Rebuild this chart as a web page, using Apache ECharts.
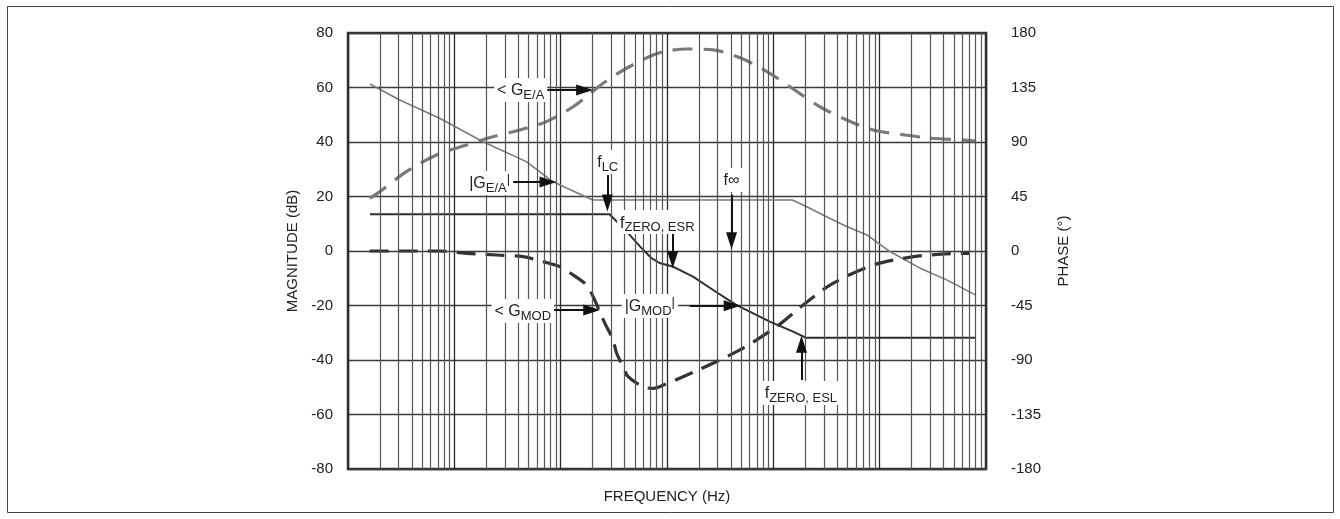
<!DOCTYPE html>
<html><head><meta charset="utf-8">
<script src="https://cdn.jsdelivr.net/npm/echarts@6/dist/echarts.min.js"></script>
<style>html,body{margin:0;padding:0;background:#fff}#c{width:1340px;height:519px}</style>
</head><body><div id="c"></div>
<script>
const FONT = "'Liberation Sans',Arial,sans-serif";

// Tick labels
const magTicks = [-80, -60, -40, -20, 0, 20, 40, 60, 80];
const phaseTicks = [-180, -135, -90, -45, 0, 45, 90, 135, 180];
const freqRange = [1, 1000000];

// |G_E/A| magnitude (dB)
const magGeaFreq = [1.61, 3.06, 7.28, 18.6, 47.6, 84.9, 200, 15100, 20400, 31600, 49000, 75900, 126000, 240000, 427000, 794000];
const magGeaVal  = [61.3, 55.4, 48.7, 40.1, 32.8, 25.4, 18.7, 18.7, 16.3, 12.6, 9.0, 5.9, -0.3, -6.3, -10.6, -16.1];

// |G_MOD| magnitude (dB)
const magGmodFreq = [1.61, 288, 398, 562, 708, 851, 1150, 1758, 2716, 4470, 9268, 15350, 19050, 19950, 794000];
const magGmodVal  = [13.5, 13.5, 8.0, 1.5, -2.5, -4.4, -5.8, -9.4, -14.3, -19.8, -25.9, -29.6, -31.3, -31.8, -31.8];

// <G_E/A phase (deg)
const phGeaFreq = [1.61, 1.99, 3.54, 6.79, 13.0, 23.1, 41.2, 73.5, 131, 251, 416, 740, 989, 1520, 2720, 5010, 9270, 15900, 27400, 48900, 86900, 173000, 308000, 590000, 787000];
const phGeaVal  = [43.5, 49.0, 65.5, 79.3, 87.5, 94.4, 99.9, 106.8, 119.1, 138.5, 150.9, 161.8, 165.1, 166.8, 166.0, 159.1, 146.7, 132.9, 119.1, 108.2, 99.9, 95.8, 93.1, 91.7, 90.8];

// <G_MOD phase (deg)
const phGmodFreq = [1.6, 7.29, 13.0, 24.9, 44.3, 68.2, 97.9, 122, 175, 202, 233, 260, 311, 335, 386, 431, 596, 735, 851, 1780, 4840, 10700, 19100, 36300, 87100, 209000, 398000, 708000];
const phGmodVal  = [0, 0, -1.9, -3.3, -4.7, -8.8, -12.9, -18, -28, -37.7, -50.1, -59.5, -73.5, -84, -95.5, -103.8, -112, -113.5, -112, -100, -81.7, -62.5, -44.6, -26.7, -11.6, -4.7, -2.5, -1.9];

// Annotations: text label position [freq, dB]
const noteText = [
  {t: '< G', s: 'E/A', e: '', at: [42.1, 59.1]},
  {t: '|G', s: 'E/A', e: '|', at: [21.5, 25.0]},
  {t: 'f', s: 'LC', e: '', at: [277, 32.7]},
  {t: 'f', s: 'ZERO, ESR', e: '', at: [811, 10.6]},
  {t: 'f∞', s: '', e: '', at: [4045, 26.1]},
  {t: '< G', s: 'MOD', e: '', at: [44, -22.0]},
  {t: '|G', s: 'MOD', e: '|', at: [689, -20.2]},
  {t: 'f', s: 'ZERO, ESL', e: '', at: [18150, -52.1]}
];
// Arrows: [from [freq, dB], to [freq, dB]]
const noteArrows = [
  [[73.5, 59.1], [168, 59.1]],
  [[35.4, 25.3], [76, 25.3]],
  [[275, 27.9], [275, 17.6]],
  [[1132, 7.0], [1132, -3.2]],
  [[4045, 20.6], [4045, 3.8]],
  [[74, -21.65], [196, -21.65]],
  [[1636, -20.1], [4100, -20.1]],
  [[18400, -47.3], [18400, -34.2]]
];

const zip = (a, b) => a.map((v, i) => [v, b[i]]);

const minorLines = [];
for (let d = 1; d < freqRange[1]; d *= 10) {
  for (let k = 2; k <= 9; k++) minorLines.push({xAxis: k * d});
}

const chart = echarts.init(document.getElementById('c'), null, {renderer: 'canvas'});
const ARROW = 'path://M5,0 L10,17 L0,17 Z';

chart.setOption({
  animation: false,
  backgroundColor: '#fff',
  textStyle: {fontFamily: FONT},
  graphic: [{
    type: 'rect', silent: true, z: 100,
    shape: {x: 7.5, y: 6.5, width: 1326, height: 506},
    style: {fill: 'none', stroke: '#444', lineWidth: 1}
  }],
  grid: {left: 348, right: 354, top: 33, bottom: 50, show: true, borderColor: '#333', borderWidth: 2.5, backgroundColor: 'transparent'},
  xAxis: {
    type: 'log', logBase: 10, min: freqRange[0], max: freqRange[1],
    name: 'FREQUENCY (Hz)', nameLocation: 'middle', nameGap: 20,
    nameTextStyle: {fontSize: 15, color: '#222', fontFamily: FONT},
    axisLine: {show: false}, axisTick: {show: false}, axisLabel: {show: false},
    splitLine: {show: true, lineStyle: {color: '#2a2a2a', width: 1.3}}
  },
  yAxis: [{
    type: 'value', min: magTicks[0], max: magTicks[magTicks.length - 1], interval: 20,
    name: 'MAGNITUDE (dB)', nameLocation: 'middle', nameGap: 48, nameRotate: 90,
    nameTextStyle: {fontSize: 15, color: '#222', fontFamily: FONT},
    axisLine: {show: false}, axisTick: {show: false},
    axisLabel: {fontSize: 15, color: '#222', margin: 15, fontFamily: FONT},
    splitLine: {show: true, lineStyle: {color: '#3a3a3a', width: 1.3}}
  }, {
    type: 'value', position: 'right', min: phaseTicks[0], max: phaseTicks[phaseTicks.length - 1], interval: 45,
    name: 'PHASE (°)', nameLocation: 'middle', nameGap: 70, nameRotate: 90,
    nameTextStyle: {fontSize: 15, color: '#222', fontFamily: FONT},
    axisLine: {show: false}, axisTick: {show: false},
    axisLabel: {fontSize: 15, color: '#222', margin: 25, fontFamily: FONT},
    splitLine: {show: false}
  }],
  series: [
    {
      type: 'line', name: 'grid', data: [], z: 1, silent: true,
      markLine: {silent: true, symbol: ['none', 'none'], label: {show: false},
        lineStyle: {type: 'solid', color: '#555', width: 1.2}, data: minorLines, animation: false}
    },
    {type: 'line', name: '|G E/A|', data: zip(magGeaFreq, magGeaVal), yAxisIndex: 0, showSymbol: false, z: 3,
      lineStyle: {color: '#7a7a7a', width: 1.6}},
    {type: 'line', name: '|G MOD|', data: zip(magGmodFreq, magGmodVal), yAxisIndex: 0, showSymbol: false, z: 4,
      lineStyle: {color: '#2e2e2e', width: 2}},
    {type: 'line', name: '<G E/A', data: zip(phGeaFreq, phGeaVal), yAxisIndex: 1, showSymbol: false, smooth: 0.3, z: 3,
      lineStyle: {color: '#7a7a7a', width: 3.2, type: [20, 11]}},
    {type: 'line', name: '<G MOD', data: zip(phGmodFreq, phGmodVal), yAxisIndex: 1, showSymbol: false, smooth: 0.3, z: 4,
      lineStyle: {color: '#333', width: 3.2, type: [19, 10]}},
    {
      type: 'line', name: 'notes', data: [], yAxisIndex: 0, z: 10, silent: true,
      markLine: {
        silent: true, symbol: ['none', ARROW], symbolSize: [11, 17],
        label: {show: false},
        lineStyle: {type: 'solid', color: '#111', width: 2},
        data: noteArrows.map(a => [{coord: a[0]}, {coord: a[1]}])
      },
      markPoint: {
        silent: true, symbol: 'circle', symbolSize: 1,
        itemStyle: {color: 'rgba(0,0,0,0)'},
        data: noteText.map(n => ({
          coord: n.at,
          label: {
            show: true, position: 'inside',
            formatter: '{m|' + n.t + '}' + (n.s ? '{s|' + n.s + '}' : '') + (n.e ? '{e|' + n.e + '}' : ''),
            backgroundColor: '#fff', padding: [2, 3, 0, 3],
            rich: {
              m: {fontSize: 16, color: '#222', fontFamily: FONT, lineHeight: 22, verticalAlign: 'middle'},
              s: {fontSize: 13, color: '#222', fontFamily: FONT, lineHeight: 22, verticalAlign: 'bottom'},
              e: {fontSize: 13, color: '#222', fontFamily: FONT, lineHeight: 22, verticalAlign: 'top'}
            }
          }
        }))
      }
    }
  ]
});
</script></body></html>
